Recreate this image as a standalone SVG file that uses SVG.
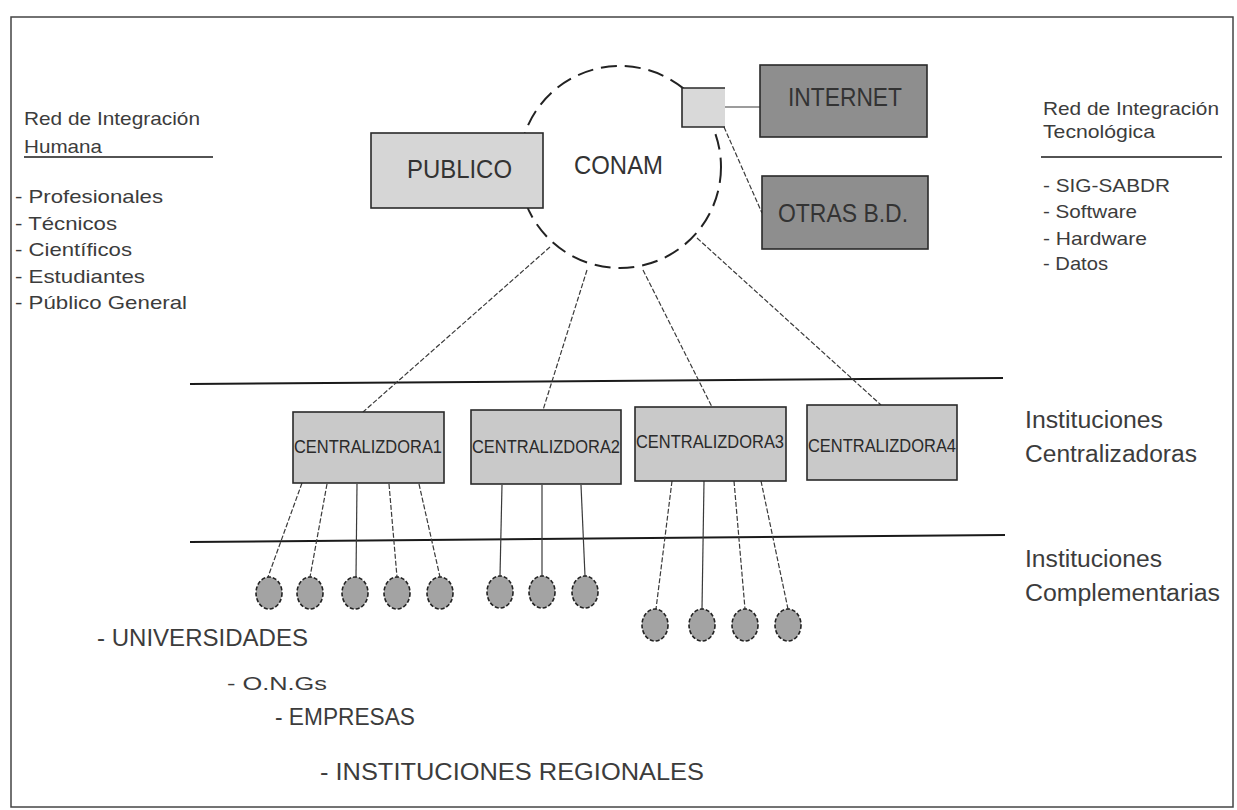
<svg xmlns="http://www.w3.org/2000/svg" width="1237" height="810" viewBox="0 0 1237 810">
<style>
text{font-family:"Liberation Sans",Arial,sans-serif;fill:#3c3c3c}
.lbl{font-size:19px}
.big{font-size:23px}
.bx{font-size:25px;fill:#333}
.box-light{fill:#d6d6d6;stroke:#2a2a2a;stroke-width:1.6}
.box-dark{fill:#8e8e8e;stroke:#2a2a2a;stroke-width:1.6}
.box-c{fill:#c9c9c9;stroke:#2a2a2a;stroke-width:1.6}
.leaf{fill:#a3a3a3;stroke:#222;stroke-width:1.6;stroke-dasharray:4 2}
.conn{stroke:#3a3a3a;stroke-width:1.2;fill:none}
.connd{stroke:#3a3a3a;stroke-width:1.2;fill:none;stroke-dasharray:5 2}
.rule{stroke:#1a1a1a;stroke-width:2}
.ctext{font-size:17.5px;fill:#2a2a2a}
</style>
<rect x="0" y="0" width="1237" height="810" fill="#ffffff"/>
<rect x="11" y="17" width="1222" height="790" fill="none" stroke="#444" stroke-width="1.5"/>

<g id="left-legend">
<text class="lbl" x="24" y="125" textLength="176" lengthAdjust="spacingAndGlyphs">Red de Integración</text>
<text class="lbl" x="24" y="153" textLength="78" lengthAdjust="spacingAndGlyphs">Humana</text>
<line x1="24" y1="157" x2="213" y2="157" stroke="#1a1a1a" stroke-width="1.6"/>
<text class="lbl" x="15" y="203" textLength="148" lengthAdjust="spacingAndGlyphs">- Profesionales</text>
<text class="lbl" x="15" y="230" textLength="102" lengthAdjust="spacingAndGlyphs">- Técnicos</text>
<text class="lbl" x="15" y="256" textLength="117" lengthAdjust="spacingAndGlyphs">- Científicos</text>
<text class="lbl" x="15" y="283" textLength="130" lengthAdjust="spacingAndGlyphs">- Estudiantes</text>
<text class="lbl" x="15" y="309" textLength="172" lengthAdjust="spacingAndGlyphs">- Público General</text>
</g>

<g id="right-legend">
<text class="lbl" x="1043" y="115" textLength="176" lengthAdjust="spacingAndGlyphs">Red de Integración</text>
<text class="lbl" x="1043" y="138" textLength="112" lengthAdjust="spacingAndGlyphs">Tecnológica</text>
<line x1="1041" y1="157" x2="1222" y2="157" stroke="#1a1a1a" stroke-width="1.6"/>
<text class="lbl" x="1043" y="192" textLength="127" lengthAdjust="spacingAndGlyphs">- SIG-SABDR</text>
<text class="lbl" x="1043" y="218" textLength="94" lengthAdjust="spacingAndGlyphs">- Software</text>
<text class="lbl" x="1043" y="245" textLength="104" lengthAdjust="spacingAndGlyphs">- Hardware</text>
<text class="lbl" x="1043" y="270" textLength="65" lengthAdjust="spacingAndGlyphs">- Datos</text>
</g>

<g id="level-labels">
<text class="big" x="1025" y="428" textLength="138" lengthAdjust="spacingAndGlyphs">Instituciones</text>
<text class="big" x="1025" y="462" textLength="172" lengthAdjust="spacingAndGlyphs">Centralizadoras</text>
<text class="big" x="1025" y="567" textLength="137" lengthAdjust="spacingAndGlyphs">Instituciones</text>
<text class="big" x="1025" y="601" textLength="195" lengthAdjust="spacingAndGlyphs">Complementarias</text>
</g>

<g id="rules">
<line class="rule" x1="190" y1="384" x2="1003" y2="378"/>
<line class="rule" x1="190" y1="542" x2="1005" y2="535"/>
</g>

<g id="connectors">
<line class="connd" x1="550" y1="247" x2="363" y2="412"/>
<line class="connd" x1="587" y1="270" x2="543" y2="410"/>
<line class="connd" x1="643" y1="270" x2="712" y2="407"/>
<line class="connd" x1="697" y1="238" x2="881" y2="405"/>
<line class="conn" x1="725" y1="107" x2="760" y2="107"/>
<line class="connd" x1="724" y1="127" x2="762" y2="213"/>
<line class="connd" x1="302" y1="483" x2="268" y2="577"/>
<line class="connd" x1="327" y1="484" x2="310" y2="577"/>
<line class="conn" x1="357" y1="484" x2="356" y2="577"/>
<line class="connd" x1="389" y1="484" x2="397" y2="577"/>
<line class="connd" x1="419" y1="484" x2="440" y2="577"/>
<line class="conn" x1="502" y1="485" x2="500" y2="576"/>
<line class="conn" x1="542" y1="485" x2="542" y2="576"/>
<line class="conn" x1="581" y1="485" x2="585" y2="576"/>
<line class="connd" x1="672" y1="481" x2="656" y2="609"/>
<line class="conn" x1="704" y1="481" x2="702" y2="609"/>
<line class="connd" x1="734" y1="481" x2="745" y2="609"/>
<line class="connd" x1="761" y1="481" x2="788" y2="609"/>
</g>

<g id="conam">
<circle cx="620" cy="167" r="101" fill="none" stroke="#222" stroke-width="2" stroke-dasharray="16 8"/>
<text class="bx" x="574" y="174" textLength="89" lengthAdjust="spacingAndGlyphs">CONAM</text>
</g>

<g id="publico">
<rect class="box-light" x="371" y="133" width="172" height="75"/>
<text class="bx" x="407" y="178" textLength="105" lengthAdjust="spacingAndGlyphs">PUBLICO</text>
</g>

<g id="gateway">
<rect x="682" y="88" width="43" height="39" fill="#d9d9d9"/>
<polyline points="725,88 682,88 682,127 725,127" fill="none" stroke="#2a2a2a" stroke-width="1.6"/>
</g>

<g id="internet">
<rect class="box-dark" x="760" y="65" width="167" height="72"/>
<text class="bx" x="788" y="106" textLength="114" lengthAdjust="spacingAndGlyphs">INTERNET</text>
</g>

<g id="otras-bd">
<rect class="box-dark" x="762" y="176" width="166" height="73"/>
<text class="bx" x="778" y="222" textLength="130" lengthAdjust="spacingAndGlyphs">OTRAS B.D.</text>
</g>

<g id="centralizadora1">
<rect class="box-c" x="293" y="412" width="151" height="71"/>
<text class="ctext" x="294" y="453" textLength="148" lengthAdjust="spacingAndGlyphs">CENTRALIZDORA1</text>
</g>
<g id="centralizadora2">
<rect class="box-c" x="471" y="410" width="150" height="74"/>
<text class="ctext" x="472" y="453" textLength="148" lengthAdjust="spacingAndGlyphs">CENTRALIZDORA2</text>
</g>
<g id="centralizadora3">
<rect class="box-c" x="635" y="407" width="151" height="74"/>
<text class="ctext" x="636" y="448" textLength="148" lengthAdjust="spacingAndGlyphs">CENTRALIZDORA3</text>
</g>
<g id="centralizadora4">
<rect class="box-c" x="807" y="405" width="150" height="75"/>
<text class="ctext" x="808" y="452" textLength="148" lengthAdjust="spacingAndGlyphs">CENTRALIZDORA4</text>
</g>

<g id="complementarias">
<ellipse class="leaf" cx="269" cy="593" rx="13" ry="16"/>
<ellipse class="leaf" cx="310" cy="593" rx="13" ry="16"/>
<ellipse class="leaf" cx="355" cy="593" rx="13" ry="16"/>
<ellipse class="leaf" cx="397" cy="593" rx="13" ry="16"/>
<ellipse class="leaf" cx="440" cy="593" rx="13" ry="16"/>
<ellipse class="leaf" cx="500" cy="592" rx="13" ry="16"/>
<ellipse class="leaf" cx="542" cy="592" rx="13" ry="16"/>
<ellipse class="leaf" cx="585" cy="592" rx="13" ry="16"/>
<ellipse class="leaf" cx="655" cy="625" rx="13" ry="16"/>
<ellipse class="leaf" cx="702" cy="625" rx="13" ry="16"/>
<ellipse class="leaf" cx="745" cy="625" rx="13" ry="16"/>
<ellipse class="leaf" cx="788" cy="625" rx="13" ry="16"/>
</g>

<g id="bottom-list">
<text class="big" x="97" y="646" textLength="211" lengthAdjust="spacingAndGlyphs">- UNIVERSIDADES</text>
<text class="lbl" x="227" y="690" textLength="100" lengthAdjust="spacingAndGlyphs">- O.N.Gs</text>
<text class="big" x="275" y="725" textLength="140" lengthAdjust="spacingAndGlyphs">- EMPRESAS</text>
<text class="big" x="320" y="780" textLength="384" lengthAdjust="spacingAndGlyphs">- INSTITUCIONES REGIONALES</text>
</g>
</svg>
